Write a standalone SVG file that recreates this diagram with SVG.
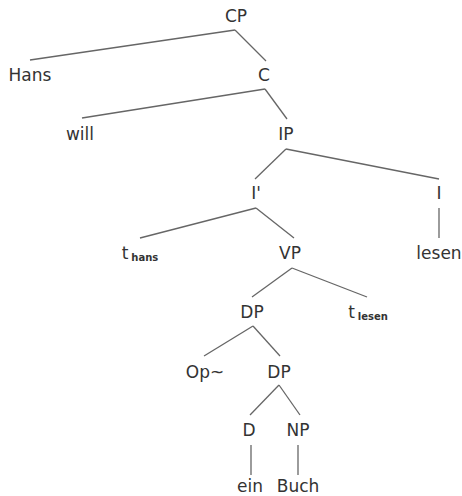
<svg xmlns="http://www.w3.org/2000/svg" width="462" height="496" viewBox="0 0 462 496">
<style>
text{font-family:"DejaVu Sans","Liberation Sans",sans-serif;font-size:17px;fill:#333;text-anchor:middle}
.sub{font-size:10px;font-weight:bold}
line{stroke:#666;stroke-width:1.3}
</style>
<rect width="462" height="496" fill="#fff"/>
<g id="connectors">
<line x1="235" y1="30" x2="30" y2="60"/>
<line x1="235" y1="30" x2="266" y2="61"/>
<line x1="265" y1="89" x2="82" y2="118"/>
<line x1="265" y1="89" x2="287" y2="119"/>
<line x1="286" y1="149" x2="255" y2="179"/>
<line x1="286" y1="149" x2="439" y2="179"/>
<line x1="439" y1="208" x2="439" y2="238"/>
<line x1="256" y1="208" x2="140" y2="238"/>
<line x1="256" y1="208" x2="294" y2="238"/>
<line x1="292" y1="268" x2="252" y2="297"/>
<line x1="292" y1="268" x2="367" y2="297"/>
<line x1="253" y1="326" x2="204" y2="356"/>
<line x1="253" y1="326" x2="280" y2="356"/>
<line x1="279" y1="385" x2="250" y2="415"/>
<line x1="279" y1="385" x2="300" y2="415"/>
<line x1="251" y1="445" x2="251" y2="475"/>
<line x1="298" y1="445" x2="298" y2="475"/>
</g>
<g id="n-CP"><text x="236" y="22">CP</text></g>
<g id="n-Hans"><text x="30" y="81">Hans</text></g>
<g id="n-C"><text x="264" y="81">C</text></g>
<g id="n-will"><text x="80" y="140">will</text></g>
<g id="n-IP"><text x="286" y="140">IP</text></g>
<g id="n-Ibar"><text x="256" y="199">I'</text></g>
<g id="n-I"><text x="439" y="199">I</text></g>
<g id="n-lesen"><text x="439" y="259">lesen</text></g>
<g id="n-thans"><text x="140" y="259">t<tspan class="sub" dx="3" dy="2">hans</tspan></text></g>
<g id="n-VP"><text x="290" y="259">VP</text></g>
<g id="n-DP1"><text x="252" y="318">DP</text></g>
<g id="n-tlesen"><text x="368" y="318">t<tspan class="sub" dx="3" dy="2">lesen</tspan></text></g>
<g id="n-Op"><text x="205" y="378">Op~</text></g>
<g id="n-DP2"><text x="279" y="378">DP</text></g>
<g id="n-D"><text x="249" y="436">D</text></g>
<g id="n-NP"><text x="298" y="436">NP</text></g>
<g id="n-ein"><text x="250" y="492">ein</text></g>
<g id="n-Buch"><text x="298" y="492">Buch</text></g>
</svg>
